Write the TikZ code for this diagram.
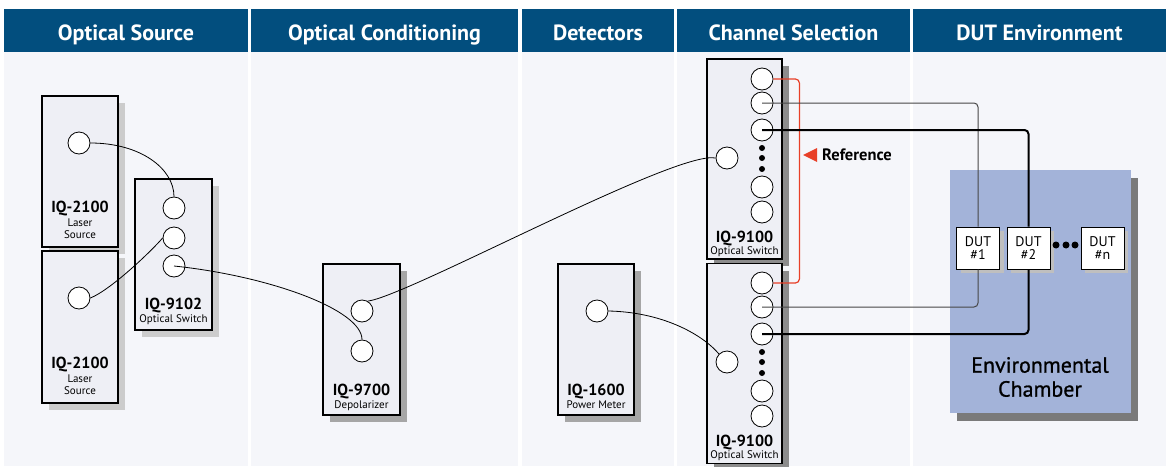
\documentclass[tikz,border=0pt]{standalone}
\usepackage{fontspec}
\setmainfont{PT Sans}
\newfontfamily\chamberfont{PT Sans}[FakeBold=0.8]
\usepackage{tikz}
\usetikzlibrary{positioning, shadows, shapes.geometric}
\definecolor{headblue}{RGB}{2,78,126}
\definecolor{panelgray}{RGB}{245,246,250}
\definecolor{devfill}{RGB}{238,239,245}
\definecolor{chamber}{RGB}{163,179,217}
\definecolor{refred}{RGB}{232,64,40}
\definecolor{fibergray}{RGB}{70,70,70}

\begin{document}
\begin{tikzpicture}[x=1pt, y=-1pt,
  header/.style={fill=headblue, text=white, inner sep=0pt, minimum height=43pt, text height=21pt, text depth=2pt, font=\fontsize{22}{24}\selectfont\bfseries},
  device/.style={draw, line width=1.3pt, fill=devfill, inner sep=0pt, drop shadow={shadow xshift=7pt, shadow yshift=-7pt, fill=#1, opacity=1}},
  device/.default=black!20,
  port/.style={circle, draw, line width=0.8pt, fill=white, inner sep=0pt, minimum size=22pt},
  dot/.style={circle, fill=black, inner sep=0pt, minimum size=#1},
  dot/.default=6pt,
  model/.style={anchor=base, inner sep=0pt, font=\fontsize{16}{18}\selectfont\bfseries},
  kind/.style={anchor=base, inner sep=0pt, font=\fontsize{11}{12}\selectfont},
  fiber/.style={line width=0.8pt},
  dut/.style={draw, line width=1pt, fill=white, inner sep=0pt, minimum width=43pt, minimum height=42pt, align=center, font=\fontsize{14}{13}\selectfont, drop shadow={shadow xshift=4pt, shadow yshift=-4pt, fill=black!25, opacity=1}}]

  \fill[white] (0,0) rectangle (1169,466);
  \useasboundingbox (0,0) rectangle (1169,466);

  \foreach \xa/\xb/\ttl [count=\i] in {4/248/Optical Source, 251/518/Optical Conditioning, 522/674/Detectors, 677/910/Channel Selection, 913/1166/DUT Environment}{
    \fill[panelgray] (\xa,52) rectangle (\xb,466);
    \node[header, minimum width=\xb-\xa] (H\i) at ({(\xa+\xb)/2},30.5) {\ttl};
  }

  \node[device, minimum width=76pt, minimum height=151pt] (LS1) at (80,171.5) {};
  \node[device, minimum width=76pt, minimum height=152pt] (LS2) at (80,327) {};
  \node[device, minimum width=77pt, minimum height=151pt] (OS) at (173.5,254.5) {};
  \node[device=black!35, minimum width=77pt, minimum height=151pt] (DP) at (361.5,339.5) {};
  \node[device=black!35, minimum width=76pt, minimum height=151pt] (PM) at (596,339.5) {};
  \node[device=black!45, minimum width=75pt, minimum height=200pt] (CSa) at (744.5,159) {};
  \node[device=black!45, minimum width=75pt, minimum height=200pt] (CSb) at (744.5,363.5) {};

  \node[model] (LS1m) at (80,212) {IQ-2100};
  \node[kind] (LS1k) at (80,226) {Laser};
  \node[kind] (LS1s) at (80,238) {Source};
  \node[model] (LS2m) at (80,368) {IQ-2100};
  \node[kind] (LS2k) at (80,382) {Laser};
  \node[kind] (LS2s) at (80,394) {Source};
  \node[model] (OSm) at (173.5,309) {IQ-9102};
  \node[kind] (OSk) at (173.5,322) {Optical Switch};
  \node[model] (DPm) at (361.5,395.5) {IQ-9700};
  \node[kind] (DPk) at (361.5,408) {Depolarizer};
  \node[model] (PMm) at (596,395.5) {IQ-1600};
  \node[kind] (PMk) at (596,408) {Power Meter};

  \node[port] (LS1o) at (79,143) {};
  \node[port] (LS2o) at (79,298) {};
  \node[port] (OSi1) at (174,208) {};
  \node[port] (OSi2) at (174,238) {};
  \node[port] (OSo) at (174,266) {};
  \node[port] (DPo) at (362,311) {};
  \node[port] (DPi) at (362,351) {};
  \node[port] (PMi) at (597,311) {};

  \foreach \s/\dy in {a/0, b/204}{
    \node[port] (CS\s i) at (727,158+\dy) {};
    \foreach \y [count=\k] in {79,103,130,187,212}
      \node[port] (CS\s\k) at (762,\y+\dy) {};
    \foreach \y [count=\k] in {148,158,169}
      \node[dot] (CS\s d\k) at (762,\y+\dy) {};
    \node[model] (CS\s m) at (744.5,242+\dy) {IQ-9100};
    \node[kind] (CS\s k) at (744.5,254+\dy) {Optical Switch};
  }

  \node[fill=chamber, inner sep=0pt, minimum width=181pt, minimum height=243pt, drop shadow={shadow xshift=7pt, shadow yshift=-8pt, fill=black!52, opacity=1}] (CH) at (1040.5,291.5) {};
  \node[align=center, inner sep=0pt, font=\fontsize{22}{24}\chamberfont] (CHt) at (1040,377) {Environmental\\Chamber};

  \node[dut] (D1) at (978,248) {DUT\\\#1};
  \node[dut] (D2) at (1028.5,248) {DUT\\\#2};
  \node[dut] (DN) at (1102.5,248) {DUT\\\#n};
  \foreach \x [count=\k] in {1056,1066,1075}
    \node[dot=7pt] (DD\k) at (\x,245) {};

  \draw[fiber] (LS1o.east) .. controls +(50,0) and +(0,-28) .. (OSi1.north);
  \draw[fiber] (LS2o.east) .. controls +(20,-8) and +(-12,14) .. (OSi2.west);
  \draw[fiber] (OSo.center) .. controls +(95,10) and +(0,-30) .. (DPi.north);
  \draw[fiber] (DPo.60) .. controls +(40,-5) and +(-40,-8) .. (CSai.west);
  \draw[fiber] (PMi.east) .. controls +(52,1) and +(-18,-21) .. (CSbi.135);

  \draw[refred, line width=1.2pt, rounded corners=4pt] (CSa1.east) -- ([xshift=26pt]CSa1.east) |- (CSb1.east);
  \draw[fibergray, line width=1pt, rounded corners=4pt] (CSa2.center) -| (D1.north);
  \draw[fibergray, line width=1pt, rounded corners=4pt] (CSb2.center) -| (D1.south);
  \draw[line width=2pt, rounded corners=4pt] (CSa3.center) -| (D2.north);
  \draw[line width=2pt, rounded corners=4pt] (CSb3.center) -| (D2.south);

  \node[anchor=west, inner sep=0pt, font=\fontsize{16.5}{18}\selectfont\bfseries] (REF) at (822,155) {Reference};
  \fill[refred] (REF.west) ++(-5,-7) -- ++(0,14) -- ++(-14,-7) -- cycle;
\end{tikzpicture}
\end{document}
